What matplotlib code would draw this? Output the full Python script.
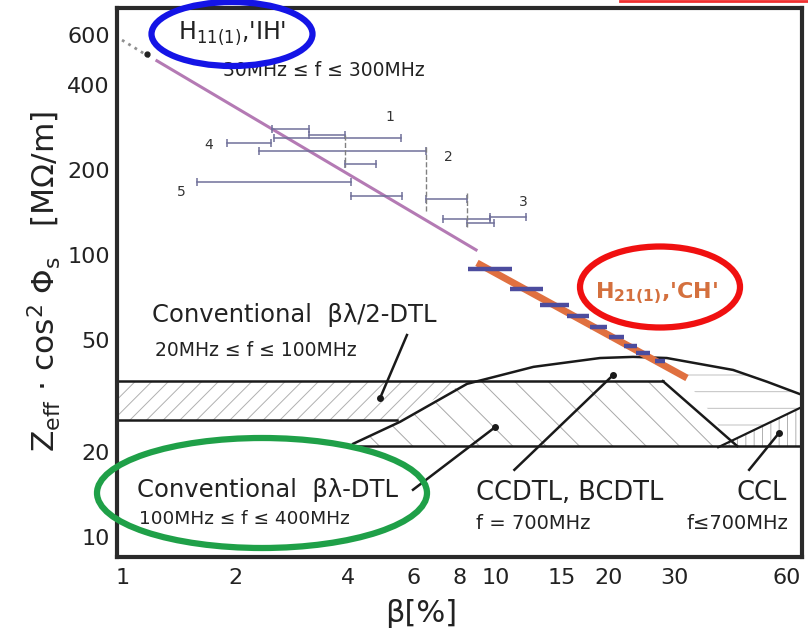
import numpy as np
import matplotlib.pyplot as plt
from matplotlib.patches import Ellipse
from matplotlib.lines import Line2D

plt.rcParams['font.family'] = ['DejaVu Sans']
plt.rcParams['mathtext.fontset'] = 'dejavusans'
plt.rcParams['hatch.linewidth'] = 0.7

# 坐标刻度
x_ticks = [1, 2, 4, 6, 8, 10, 15, 20, 30, 60]
y_ticks = [10, 20, 50, 100, 200, 400, 600]

# IH 结构拟合线 (H11(1))
ih_x = [1.233, 8.84]
ih_y = [488, 104.2]
ih_dot_x = [0.994, 1.18]
ih_dot_y = [578, 503]

# IH 测量范围 (beta 起点, beta 终点, Zeff)
bar_x0 = [2.51, 3.15, 2.54, 1.90, 2.32, 3.94, 1.58, 4.09, 6.49, 7.21, 9.64, 8.36]
bar_x1 = [3.15, 3.94, 5.56, 2.49, 6.49, 4.77, 4.09, 5.60, 8.36, 9.64, 12.0, 9.88]
bar_y = [280, 266, 260, 250, 234, 210, 181, 162, 158, 134, 136, 130]
vdash_x = [3.94, 6.49, 8.36]
vdash_y0 = [266, 242, 166]
vdash_y1 = [205, 141, 126]
bar_names = ['1', '2', '3', '4', '5']
name_x = [5.20, 7.43, 11.8, 1.70, 1.43]
name_y = [309, 223, 154, 245, 167]

# CH 结构 (H21(1))
ch_x = [8.89, 32.5]
ch_y = [93.7, 36.6]
ch_x0 = [8.41, 10.9, 13.1, 15.5, 17.9, 20.1, 22.0, 23.7, 26.7]
ch_x1 = [11.04, 13.4, 15.7, 17.8, 19.8, 22.0, 23.9, 25.9, 28.4]
ch_seg_y = [89.2, 75.8, 66.5, 60.8, 55.6, 51.2, 47.6, 44.9, 42.1]

# 区域边界
dtl2_top = 35.7
dtl2_bot = 26.0
ccdtl_bot = 21.0
arc_x = [4.14, 5.53, 8.36, 12.6, 19.0, 23.3, 28.7, 43.2, 53.3, 66.1]
arc_y = [21.4, 25.6, 34.9, 40.1, 43.1, 43.5, 43.1, 39.1, 35.5, 31.9]
slant_x = [28.0, 44.3]
slant_y = [35.7, 21.0]
ccl_x = [39.4, 66.1]
ccl_y = [20.8, 28.9]

# 引线 (文字端, 圆点端)
lead_x0 = [5.77, 5.99, 11.2, 47.7]
lead_y0 = [52.0, 14.7, 17.3, 17.3]
lead_x1 = [4.89, 9.94, 20.6, 57.4]
lead_y1 = [31.1, 24.5, 37.5, 23.4]

xmin, xmax = 0.9637, 66.1
ymin, ymax = 8.49, 751

fig = plt.figure(figsize=(8.08, 6.35), dpi=100)
ax = fig.add_axes([117 / 808, 78 / 635, 685 / 808, 549 / 635])
ax.set_xscale('log')
ax.set_yscale('log')
ax.set_xlim(xmin, xmax)
ax.set_ylim(ymin, ymax)

# 阴影区域
ax.fill([xmin, 5.43, 8.36, xmin], [dtl2_bot, dtl2_bot, dtl2_top, dtl2_top],
        facecolor='none', edgecolor='#b0b0b0', linewidth=0, hatch='//')
ax.fill([4.14, 5.53, 8.36, 28.0, 44.3, 4.14],
        [ccdtl_bot, 25.6, dtl2_top, dtl2_top, ccdtl_bot, ccdtl_bot],
        facecolor='none', edgecolor='#a8a8a8', linewidth=0, hatch='\\')
ax.fill([28.7, 43.2, 53.3, 66.1, 66.1, 42.0, 36.0],
        [43.1, 39.1, 35.5, 31.9, 28.9, 21.8, 30.0],
        facecolor='none', edgecolor='#c0c0c0', linewidth=0, hatch='-')
ax.fill([42.0, 66.1, 66.1, 40.0],
        [21.8, 28.9, ccdtl_bot, ccdtl_bot],
        facecolor='none', edgecolor='#b0b0b0', linewidth=0, hatch='||')

lc = '#1a1a1a'
ax.plot([xmin, 28.0], [dtl2_top, dtl2_top], color=lc, lw=1.8)
ax.plot([xmin, 5.43], [dtl2_bot, dtl2_bot], color=lc, lw=1.8)
ax.plot([4.14, xmax], [ccdtl_bot, ccdtl_bot], color=lc, lw=1.8)
ax.plot(arc_x, arc_y, color=lc, lw=1.8)
ax.plot(slant_x, slant_y, color=lc, lw=1.8)
ax.plot(ccl_x, ccl_y, color=lc, lw=1.6)

for i in range(len(lead_x0)):
    ax.plot([lead_x0[i], lead_x1[i]], [lead_y0[i], lead_y1[i]], color=lc, lw=1.8)
    ax.plot(lead_x1[i], lead_y1[i], 'o', color=lc, ms=4)

# IH 数据
ax.plot(ih_dot_x, ih_dot_y, ':', color='#909090', lw=2)
ax.plot(1.16, 516, 'o', color='#222222', ms=3.5)
ax.plot(ih_x, ih_y, color='#b47ab4', lw=2.2)

bc = '#70709a'
for i in range(len(bar_y)):
    ax.plot([bar_x0[i], bar_x1[i]], [bar_y[i], bar_y[i]], color=bc, lw=1.1,
            marker='|', ms=6, mew=1.1)
for i in range(len(vdash_x)):
    ax.plot([vdash_x[i], vdash_x[i]], [vdash_y0[i], vdash_y1[i]], '--',
            color='#808080', lw=1.0)
for i in range(len(bar_names)):
    ax.text(name_x[i], name_y[i], bar_names[i], fontsize=10, ha='center',
            va='center', color='#333333')

# CH 数据
ax.plot(ch_x, ch_y, color='#e07040', lw=5, solid_capstyle='butt')
for i in range(len(ch_seg_y)):
    ax.plot([ch_x0[i], ch_x1[i]], [ch_seg_y[i], ch_seg_y[i]], color='#4c4c9e',
            lw=3.2, solid_capstyle='butt')

# 文字
tc = '#222222'
ax.text(1.196, 61.2, 'Conventional  βλ/2-DTL', fontsize=17.5, va='center', color=tc)
ax.text(1.218, 45.7, '20MHz ≤ f ≤ 100MHz', fontsize=13.5, va='center', color=tc)
ax.text(1.090, 14.7, 'Conventional  βλ-DTL', fontsize=17.5, va='center', color=tc)
ax.text(1.104, 11.6, '100MHz ≤ f ≤ 400MHz', fontsize=13.3, va='center', color=tc)
ax.text(8.81, 14.3, 'CCDTL, BCDTL', fontsize=18.5, va='center', color=tc)
ax.text(8.81, 11.2, 'f = 700MHz', fontsize=14, va='center', color=tc)
ax.text(60.3, 14.3, 'CCL', fontsize=18.5, va='center', ha='right', color=tc)
ax.text(60.6, 11.2, 'f≤700MHz', fontsize=14, va='center', ha='right', color=tc)
ax.text(1.405, 612, r"H$_{\mathregular{11(1)}}$,'IH'", fontsize=17, va='center', color=tc)
ax.text(1.854, 449, '30MHz ≤ f ≤ 300MHz', fontsize=13.5, va='center', color=tc)
ax.text(27.0, 73.3, r"$\mathbf{H_{21(1)}}$,'CH'", fontsize=16, va='center',
        ha='center', color='#d4703e', fontweight='bold')

# 坐标轴
ax.set_xticks(x_ticks)
ax.set_xticklabels([str(v) for v in x_ticks])
ax.set_yticks(y_ticks)
ax.set_yticklabels([str(v) for v in y_ticks])
ax.minorticks_off()
ax.tick_params(length=0, labelsize=16, labelcolor=tc)
ax.tick_params(axis='x', pad=8)
ax.tick_params(axis='y', pad=5)
for s in ax.spines.values():
    s.set_linewidth(3)
    s.set_color('#2a2a2a')

fig.text(44 / 808, 0.557, r'Z$_{\mathregular{eff}}$ · cos$^{\mathregular{2}}$ Φ$_{\mathregular{s}}$   [MΩ/m]',
         rotation=90, fontsize=22.5, ha='center', va='center', color=tc)
fig.text(421 / 808, 1 - 613 / 635, 'β[%]', fontsize=22, ha='center', va='center', color=tc)

# 标注椭圆
def ell(cx, cy, w, h, c):
    e = Ellipse((cx / 808, 1 - cy / 635), w / 808, h / 635, transform=fig.transFigure,
                facecolor='none', edgecolor=c, lw=4.5, clip_on=False)
    fig.add_artist(e)

ell(232, 34, 161, 64, '#1414e6')
ell(660, 287, 160, 81, '#f01010')
ell(262, 493, 330, 110, '#1fa048')

fig.add_artist(Line2D([620 / 808, 1.0], [0.998, 0.998], transform=fig.transFigure,
                      color='#f03030', lw=2))

plt.savefig('out.png', dpi=100)
